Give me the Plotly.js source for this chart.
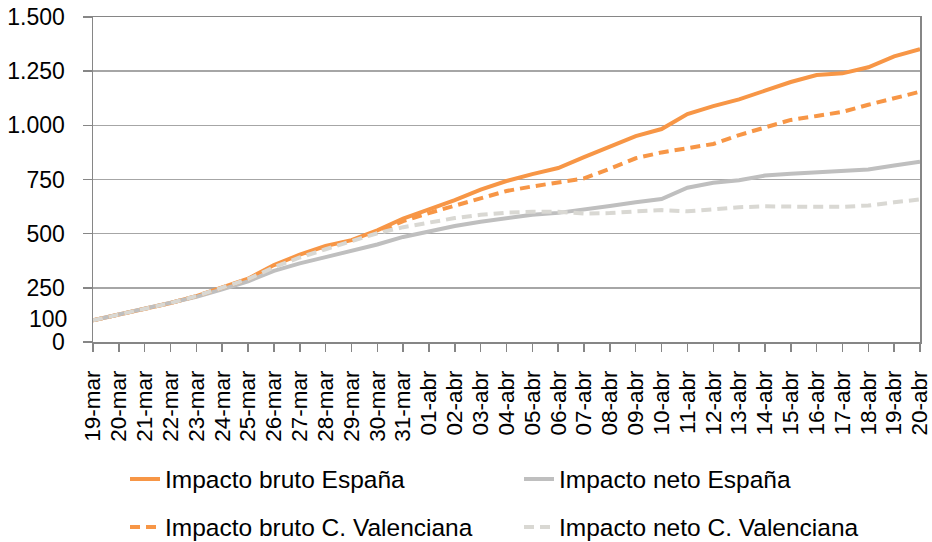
<!DOCTYPE html>
<html>
<head>
<meta charset="utf-8">
<script src="https://cdn.plot.ly/plotly-3.0.1.min.js"></script>
<style>html,body{margin:0;padding:0;background:#fff;}#chart{width:932px;height:542px;}</style>
</head>
<body>
<div id="chart"></div>
<script>
const fechas = ["19-mar","20-mar","21-mar","22-mar","23-mar","24-mar","25-mar","26-mar","27-mar","28-mar","29-mar","30-mar","31-mar",
  "01-abr","02-abr","03-abr","04-abr","05-abr","06-abr","07-abr","08-abr","09-abr","10-abr","11-abr","12-abr","13-abr","14-abr",
  "15-abr","16-abr","17-abr","18-abr","19-abr","20-abr"];

const brutoEspana = [100,127,153,180,212,250,292,355,403,443,470,515,570,612,655,703,743,775,803,853,903,950,983,1052,1089,1120,1160,1200,1232,1240,1268,1318,1352];
const netoEspana = [100,127,152,178,208,243,280,328,363,392,422,450,485,512,535,555,572,587,596,610,628,645,660,712,735,747,768,777,784,787,796,815,832];
const brutoCV = [100,127,153,180,212,250,290,350,398,438,468,505,558,595,630,665,697,718,735,755,800,848,875,893,914,955,990,1025,1043,1062,1095,1125,1155];
const netoCV = [100,127,153,180,212,250,290,345,390,428,465,502,530,552,572,587,597,601,601,593,595,603,609,603,612,622,626,627,624,624,630,645,658];

const yTickVals = [0,250,500,750,1000,1250,1500];
const yTickText = ["0","250","500","750","1.000","1.250","1.500"];
const extraLabelVal = 100;
const extraLabelText = "100";

const nombres = ["Impacto bruto España","Impacto neto España","Impacto bruto C. Valenciana","Impacto neto C. Valenciana"];

const naranja = "#F79646";
const grisOsc = "#BFBFBF";
const grisClaro = "#D9D8D3";
const fontFam = "'Liberation Sans', Arial, sans-serif";

const traces = [
  {x: fechas, y: brutoEspana, name: nombres[0], type: "scatter", mode: "lines",
   line: {color: naranja, width: 4}, legend: "legend"},
  {x: fechas, y: netoEspana, name: nombres[1], type: "scatter", mode: "lines",
   line: {color: grisOsc, width: 4}, legend: "legend"},
  {x: fechas, y: brutoCV, name: nombres[2], type: "scatter", mode: "lines",
   line: {color: naranja, width: 4, dash: "10px,6px"}, legend: "legend2"},
  {x: fechas, y: netoCV, name: nombres[3], type: "scatter", mode: "lines",
   line: {color: grisClaro, width: 4, dash: "10px,6px"}, legend: "legend2"}
];

const legendBase = {
  orientation: "h",
  xref: "container", yref: "container",
  x: 125/932, xanchor: "left",
  yanchor: "middle",
  entrywidth: 349,
  font: {family: fontFam, size: 24.5, color: "#000"},
  bgcolor: "rgba(0,0,0,0)",
  traceorder: "normal"
};

const layout = {
  width: 932, height: 542,
  margin: {l: 93, r: 12, t: 17, b: 200, pad: 0},
  paper_bgcolor: "#fff", plot_bgcolor: "#fff",
  font: {family: fontFam, size: 23, color: "#000"},
  showlegend: true,
  xaxis: {
    type: "category",
    range: [0, fechas.length - 1],
    tickmode: "linear", tick0: 0, dtick: 1,
    showgrid: false,
    showline: true, linecolor: "#868686", linewidth: 1.5, mirror: true,
    ticks: "outside", ticklen: 8, tickcolor: "#868686", tickwidth: 1.5,
    tickangle: -90,
    tickfont: {family: fontFam, size: 22.5, color: "#000"},
    ticklabelstandoff: 10,
    zeroline: false, fixedrange: true
  },
  yaxis: {
    range: [0, 1500],
    tickmode: "array", tickvals: yTickVals, ticktext: yTickText,
    showgrid: true, gridcolor: "#A6A6A6", gridwidth: 1.5,
    showline: true, linecolor: "#868686", linewidth: 1.5, mirror: true,
    ticks: "outside", ticklen: 9, tickcolor: "#868686", tickwidth: 1.5,
    tickfont: {family: fontFam, size: 23, color: "#000"},
    ticklabelstandoff: 13,
    zeroline: false, fixedrange: true
  },
  annotations: [
    {xref: "paper", yref: "y", x: 0, y: extraLabelVal, text: extraLabelText,
     showarrow: false, xanchor: "right", yanchor: "middle", xshift: -24, yshift: 1,
     font: {family: fontFam, size: 23, color: "#000"}}
  ],
  legend: Object.assign({}, legendBase, {y: 1 - 479/542}),
  legend2: Object.assign({}, legendBase, {y: 1 - 527/542})
};

Plotly.newPlot("chart", traces, layout, {displayModeBar: false, staticPlot: true});
</script>
</body>
</html>
